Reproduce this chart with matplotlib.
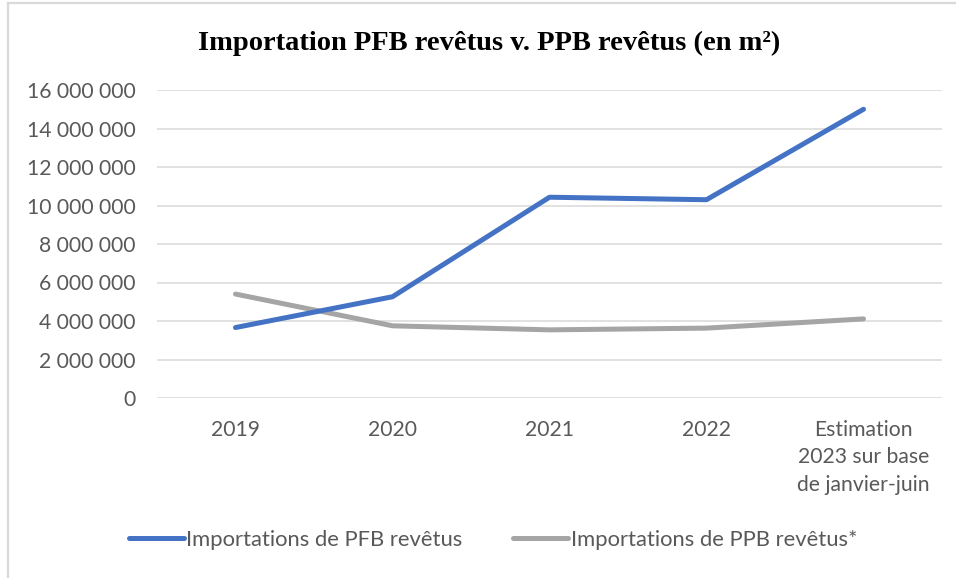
import matplotlib
matplotlib.use("Agg")
import matplotlib.pyplot as plt
from matplotlib.ticker import FuncFormatter
from matplotlib.lines import Line2D

categories = ["2019", "2020", "2021", "2022", "Estimation\n2023 sur base\nde janvier-juin"]
pfb = [3660000, 5260000, 10430000, 10300000, 15000000]
ppb = [5400000, 3750000, 3540000, 3630000, 4110000]
series_names = ["Importations de PFB revêtus", "Importations de PPB revêtus*"]
title = "Importation PFB revêtus v. PPB revêtus (en m²)"

W, H = 956, 578
fig = plt.figure(figsize=(W / 100, H / 100), dpi=100)
fig.patch.set_facecolor("white")
# partial frame (top and left edges visible in the cropped screenshot)
fig.add_artist(Line2D([8 / W, 8 / W], [0, 1 - 3 / H], transform=fig.transFigure,
                      color="#d9d9d9", lw=1.6))
fig.add_artist(Line2D([8 / W, 1], [1 - 3 / H, 1 - 3 / H], transform=fig.transFigure,
                      color="#d9d9d9", lw=1.6))

ax = fig.add_axes([157 / W, 1 - 398 / H, (942 - 157) / W, (398 - 90) / H])
x = list(range(len(categories)))
FS = 15.2

ax.plot(x, pfb, color="#4472C4", lw=3.6, solid_capstyle="round", solid_joinstyle="round",
        label=series_names[0], zorder=3)
ax.plot(x, ppb, color="#A5A5A5", lw=3.6, solid_capstyle="round", solid_joinstyle="round",
        label=series_names[1], zorder=2)

ax.set_xlim(-0.5, len(categories) - 0.5)
ax.set_ylim(0, 16000000)
ax.set_yticks(range(0, 16000001, 2000000))
ax.yaxis.set_major_formatter(FuncFormatter(lambda v, p: f"{int(v):,}".replace(",", " ")))
ax.set_xticks(x)
ax.set_xticklabels(categories)
for lab in ax.get_xticklabels() + ax.get_yticklabels():
    lab.set_fontfamily("Lato")
    lab.set_fontsize(FS)
    lab.set_color("#595959")
for lab in ax.get_xticklabels():
    lab.set_linespacing(1.45)
ax.tick_params(axis="both", length=0)
ax.tick_params(axis="y", pad=15.5)
ax.tick_params(axis="x", pad=16)
ax.grid(axis="y", color="#d9d9d9", lw=1.1)
ax.set_axisbelow(True)
for s in ax.spines.values():
    s.set_visible(False)

fig.text(0.5 * (188 + 790) / W, 1 - 43 / H, title, ha="center", va="center",
         family="Liberation Serif", weight="bold", size=20.5, color="black")

leg = fig.legend(loc="center", bbox_to_anchor=(493 / W, 1 - 540 / H), ncol=2, frameon=False,
                 prop=dict(family="Lato", size=15.8), handlelength=2.5, handletextpad=0.12,
                 columnspacing=2.3)
for t in leg.get_texts():
    t.set_color("#595959")

fig.savefig("out.png", dpi=100, facecolor="white")
